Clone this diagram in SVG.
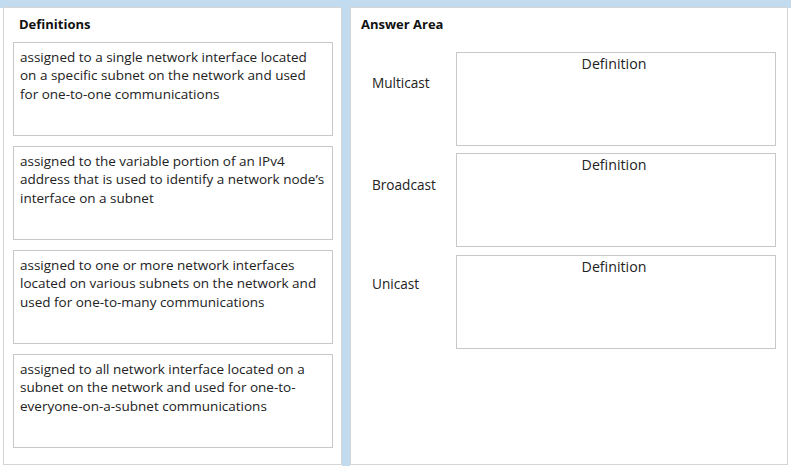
<svg xmlns="http://www.w3.org/2000/svg" width="791" height="472" viewBox="0 0 791 472">
<style>
.panel{fill:#ffffff;stroke:#d4d4d4;stroke-width:1}
.box{fill:#ffffff;stroke:#c8c8c8;stroke-width:1}
.t{font-family:"Open Sans","Noto Sans",sans-serif;font-size:13.5px;fill:#222222}
.h{font-family:"Open Sans","Noto Sans",sans-serif;font-size:13px;font-weight:bold;fill:#111111}
.lbl{font-family:"Open Sans","Noto Sans",sans-serif;font-size:13.6px;fill:#222222}
.def{font-family:"Open Sans","Noto Sans",sans-serif;font-size:14.2px;fill:#222222;text-anchor:middle}
</style>
<rect x="0" y="0" width="791" height="472" fill="#ffffff"/>
<rect x="0" y="0" width="791" height="8" fill="#c3dbef"/>
<rect x="342" y="0" width="8" height="466" fill="#c3dbef"/>
<g id="definitions-panel">
<rect class="panel" x="3.5" y="7.5" width="338" height="457"/>
<text class="h" x="19" y="29">Definitions</text>
</g>
<g id="def-1">
<rect class="box" x="13.5" y="42.5" width="319" height="93"/>
<text class="t" x="20" y="62">assigned to a single network interface located</text>
<text class="t" x="20" y="80">on a specific subnet on the network and used</text>
<text class="t" x="20" y="99">for one-to-one communications</text>
</g>
<g id="def-2">
<rect class="box" x="13.5" y="146.5" width="319" height="93"/>
<text class="t" x="20" y="166">assigned to the variable portion of an IPv4</text>
<text class="t" x="20" y="184">address that is used to identify a network node’s</text>
<text class="t" x="20" y="203">interface on a subnet</text>
</g>
<g id="def-3">
<rect class="box" x="13.5" y="250.5" width="319" height="93"/>
<text class="t" x="20" y="270">assigned to one or more network interfaces</text>
<text class="t" x="20" y="288">located on various subnets on the network and</text>
<text class="t" x="20" y="307">used for one-to-many communications</text>
</g>
<g id="def-4">
<rect class="box" x="13.5" y="354.5" width="319" height="93"/>
<text class="t" x="20" y="374">assigned to all network interface located on a</text>
<text class="t" x="20" y="392">subnet on the network and used for one-to-</text>
<text class="t" x="20" y="411">everyone-on-a-subnet communications</text>
</g>
<g id="answer-panel">
<rect class="panel" x="350.5" y="7.5" width="437" height="457"/>
<text class="h" x="361" y="29">Answer Area</text>
</g>
<g id="multicast">
<text class="lbl" x="372" y="88">Multicast</text>
<rect class="box" x="456.5" y="52.5" width="319" height="93"/>
<text class="def" x="614" y="69">Definition</text>
</g>
<g id="broadcast">
<text class="lbl" x="372" y="190">Broadcast</text>
<rect class="box" x="456.5" y="153.5" width="319" height="93"/>
<text class="def" x="614" y="170">Definition</text>
</g>
<g id="unicast">
<text class="lbl" x="372" y="289">Unicast</text>
<rect class="box" x="456.5" y="255.5" width="319" height="93"/>
<text class="def" x="614" y="272">Definition</text>
</g>
<g id="connectors"/>
</svg>
